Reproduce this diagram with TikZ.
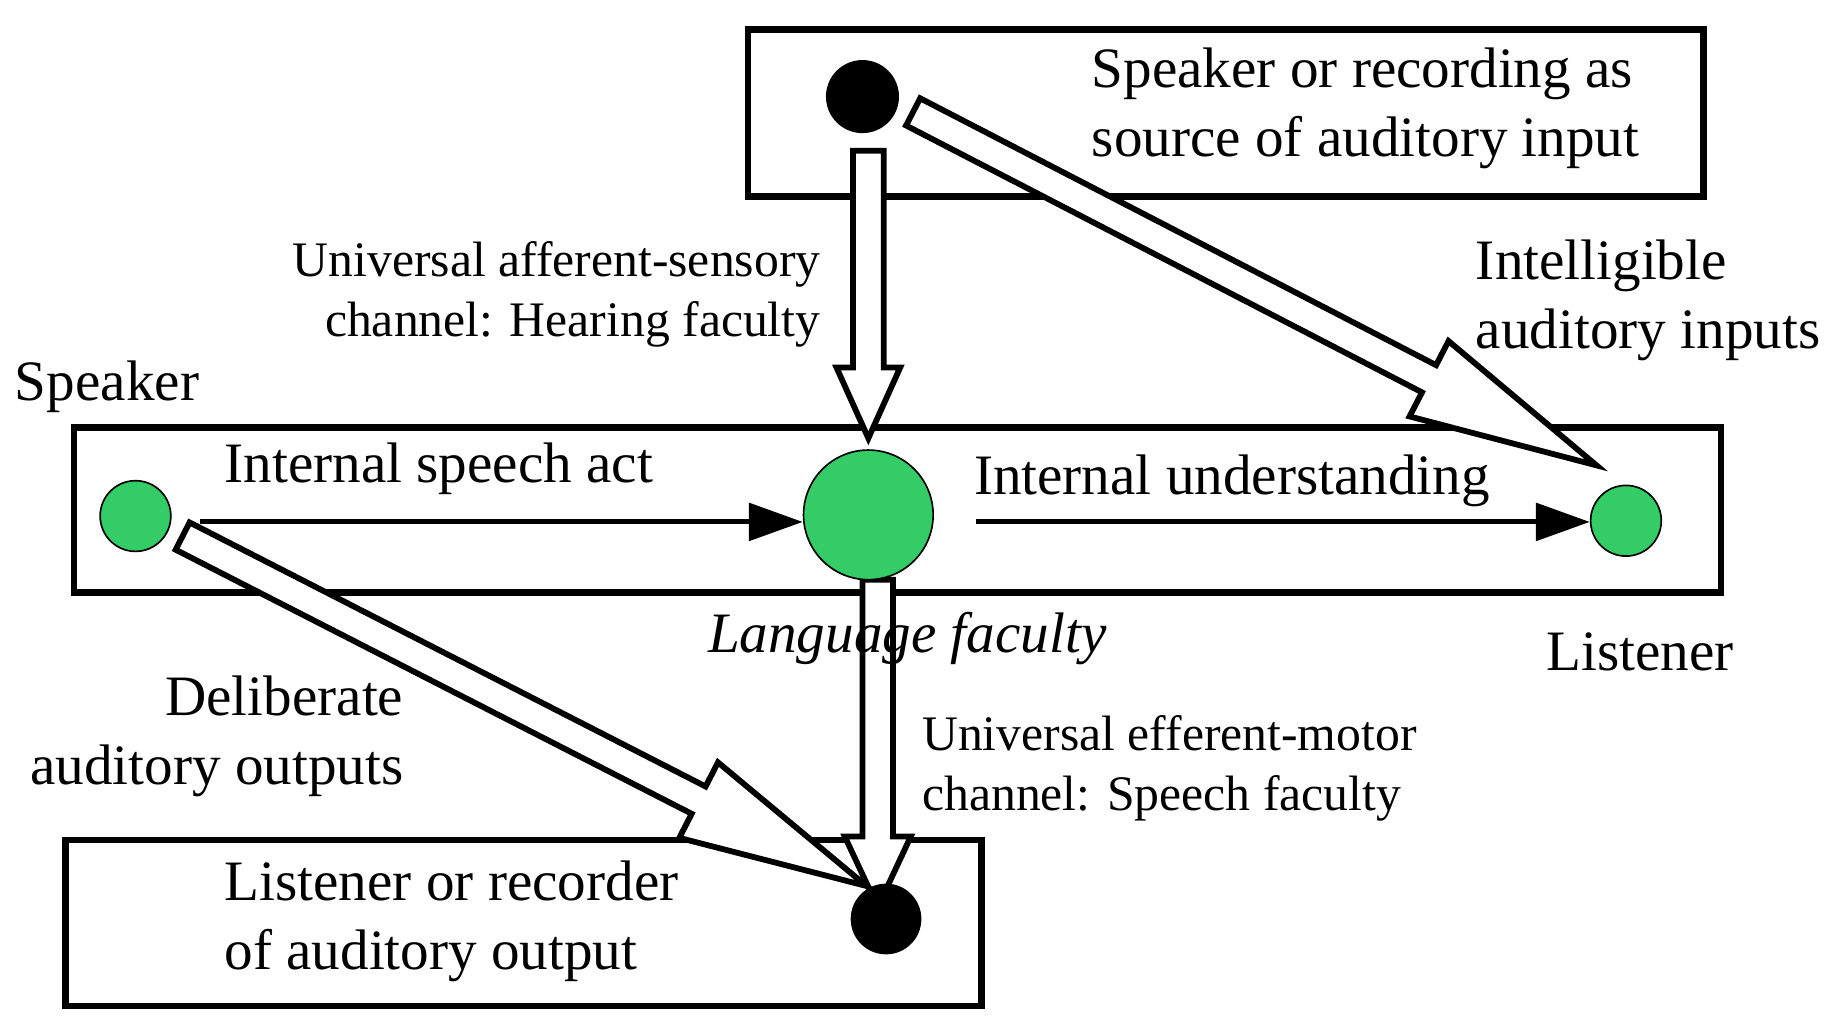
\documentclass[tikz,border=0pt]{standalone}
\usepackage{fontspec}
\setmainfont{Liberation Serif}
\usetikzlibrary{arrows.meta}
\begin{document}
\begin{tikzpicture}[
  box/.style={draw,line width=1.6pt},
  blk/.style={draw,line width=1.4pt,fill=white,line join=miter},
  big/.style={font=\fontsize{13.8pt}{16.8pt}\selectfont,inner sep=0pt},
  small/.style={font=\fontsize{12pt}{14.4pt}\selectfont,inner sep=0pt},
  gdot/.style={circle,fill=dotg,draw=black,line width=0.4pt,inner sep=0pt},
  bdot/.style={circle,fill=black,inner sep=0pt},
  ar/.style={line width=1.2pt,-{Triangle[length=13pt,width=9pt]}}]
\definecolor{dotg}{HTML}{33CC66}
\useasboundingbox (0,0) rectangle (15.6,8.64);
\node[box,minimum width=8.11cm,minimum height=1.42cm,anchor=north west] (top) at (6.32,8.42) {};
\node[box,minimum width=13.98cm,minimum height=1.40cm,anchor=north west] (mid) at (0.60,5.04) {};
\node[box,minimum width=7.77cm,minimum height=1.41cm,anchor=north west] (bot) at (0.53,1.54) {};
% start, angle, length, head length, head half width
\newcommand\blockarr[5]{\draw[blk,shift={#1},rotate=#2] (0,-0.13) -- ({#3-#4},-0.13) -- ({#3-#4},-#5) -- (#3,0) -- ({#3-#4},#5) -- ({#3-#4},0.13) -- (0,0.13) -- cycle;}
\blockarr{(7.37,7.36)}{-90}{2.44}{0.6}{0.27}
\blockarr{(7.75,7.69)}{-27.35}{6.53}{1.6}{0.36}
\blockarr{(7.45,3.72)}{-90}{2.78}{0.6}{0.28}
\blockarr{(1.55,4.09)}{-27.1}{6.52}{1.6}{0.36}
\node[bdot,minimum size=0.62cm] (src) at (7.32,7.82) {};
\node[bdot,minimum size=0.60cm] (rec) at (7.52,0.84) {};
\node[gdot,minimum size=0.60cm] (spk) at (1.15,4.26) {};
\node[gdot,minimum size=1.10cm] (lf) at (7.37,4.27) {};
\node[gdot,minimum size=0.60cm] (lis) at (13.80,4.22) {};
\coordinate (a1) at (1.70,4.21);
\coordinate (a2) at (8.28,4.21);
\draw[ar] (a1) -- (a1 -| lf.west);
\draw[ar] (a2) -- (a2 -| lis.west);
\node[big,align=left,anchor=west] (t1) at (9.26,7.72) {Speaker or recording as\\source of auditory input};
\node[small,align=right,anchor=east] (t2) at (6.97,6.14) {Universal afferent-sensory\\channel: Hearing faculty};
\node[big,align=left,anchor=west] (t3) at (12.52,6.09) {Intelligible\\auditory inputs};
\node[big,anchor=west] (t4) at (0.12,5.36) {Speaker};
\node[big,anchor=west] (t5) at (1.90,4.66) {Internal speech act};
\node[big,anchor=west] (t6) at (8.26,4.56) {Internal understanding};
\node[big,anchor=center] (t7) at (7.70,3.22) {\itshape Language faculty};
\node[big,anchor=center] (t8) at (13.92,3.11) {Listener};
\node[big,align=right,anchor=east] (t9) at (3.43,2.39) {Deliberate\\auditory outputs};
\node[small,align=left,anchor=west] (t10) at (7.82,2.12) {Universal efferent-motor\\channel: Speech faculty};
\node[big,align=left,anchor=west] (t11) at (1.90,0.82) {Listener or recorder\\of auditory output};
\end{tikzpicture}
\end{document}
